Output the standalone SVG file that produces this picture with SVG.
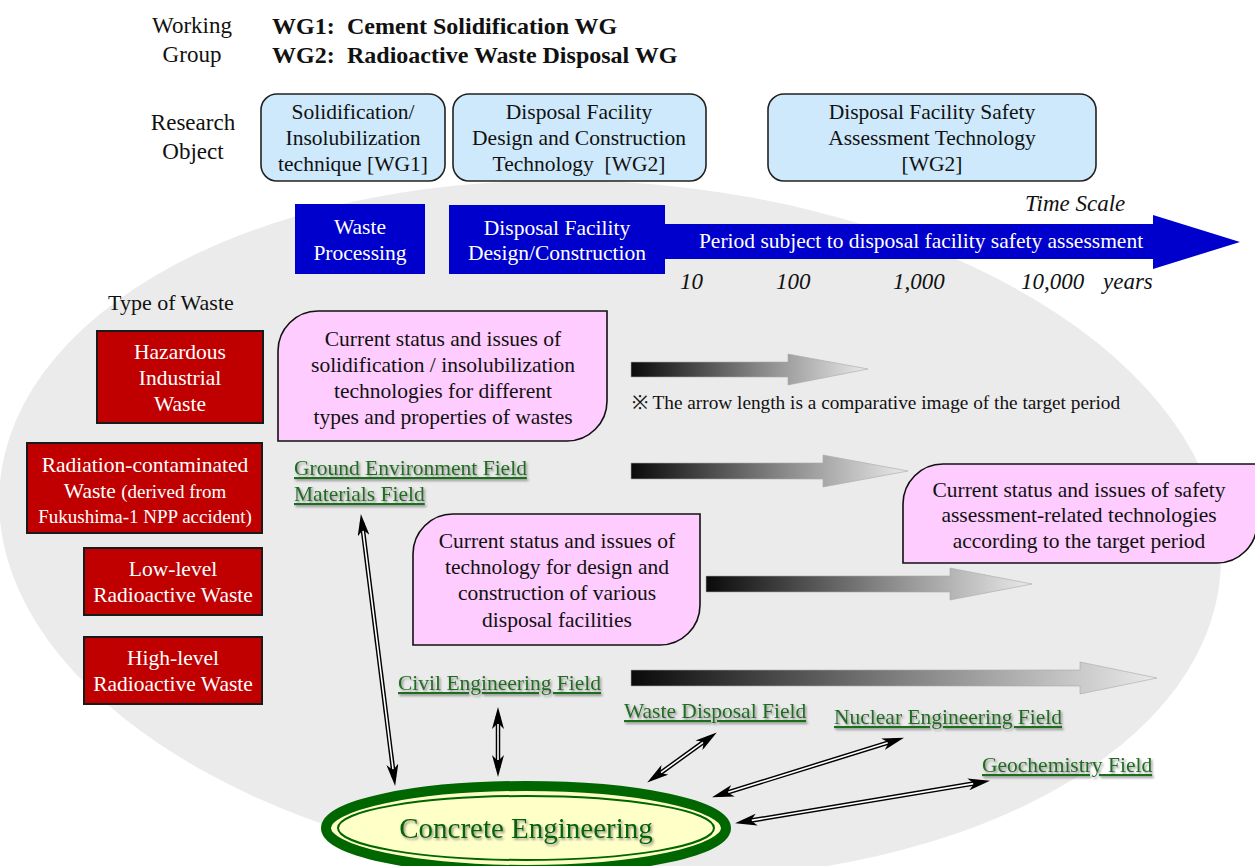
<svg xmlns="http://www.w3.org/2000/svg" width="1255" height="866" viewBox="0 0 1255 866">
<defs>
<style>
text{font-family:"Liberation Serif","Times New Roman",serif;fill:#111}
.c{text-anchor:middle}
.lbl{font-size:23px}
.hd{font-size:24px;font-weight:bold}
.bx{font-size:21.5px}
.wt{fill:#fff}
.it{font-style:italic;font-size:23px}
.obj{fill:#cde9fb;stroke:#222;stroke-width:1.6}
.blue{fill:#0000cc}
.red{fill:#c00000;stroke:#1a1a1a;stroke-width:2}
.pink{fill:#ffccff;stroke:#111;stroke-width:1.6}
.fld{font-size:21.5px;fill:#1e6e1e;text-decoration:underline;filter:url(#sh)}
.grad{fill:url(#g);stroke:#aaa;stroke-width:0.6}
.dk{stroke:#000;stroke-width:4.5;fill:none;marker-start:url(#hd);marker-end:url(#hd)}
.wl{stroke:#fff;stroke-width:1.6;fill:none}
</style>
<linearGradient id="g" x1="0" y1="0" x2="1" y2="0">
<stop offset="0" stop-color="#0a0a0a"/>
<stop offset="0.55" stop-color="#888"/>
<stop offset="1" stop-color="#eaeaea"/>
</linearGradient>
<filter id="sh" x="-5%" y="-20%" width="115%" height="160%">
<feDropShadow dx="1.5" dy="1.8" stdDeviation="0.9" flood-color="#777" flood-opacity="0.8"/>
</filter>
<marker id="hd" viewBox="0 0 22 12" refX="13" refY="6" markerWidth="22" markerHeight="12" markerUnits="userSpaceOnUse" orient="auto-start-reverse">
<path d="M0,0 L22,6 L0,12 L6,6 Z" fill="#000"/>
</marker>
</defs>
<rect width="1255" height="866" fill="#fff"/>
<ellipse id="bg" cx="610" cy="530" rx="612" ry="348" transform="rotate(4 610 530)" fill="#ebebeb"/>

<g id="header">
<text class="lbl c" x="192" y="33">Working</text>
<text class="lbl c" x="192" y="62">Group</text>
<text class="hd" x="272" y="34">WG1:</text>
<text class="hd" x="347" y="34">Cement Solidification WG</text>
<text class="hd" x="272" y="63">WG2:</text>
<text class="hd" x="347" y="63">Radioactive Waste Disposal WG</text>
<text class="lbl c" x="193" y="130">Research</text>
<text class="lbl c" x="193" y="159">Object</text>
</g>

<g id="obj1"><rect class="obj" x="261" y="94" width="184" height="87" rx="16"/>
<text class="bx c" x="353" y="119">Solidification/</text>
<text class="bx c" x="353" y="145">Insolubilization</text>
<text class="bx c" x="353" y="171">technique [WG1]</text></g>
<g id="obj2"><rect class="obj" x="453" y="94" width="253" height="87" rx="16"/>
<text class="bx c" x="579" y="119">Disposal Facility</text>
<text class="bx c" x="579" y="145">Design and Construction</text>
<text class="bx c" x="579" y="171">Technology&#160; [WG2]</text></g>
<g id="obj3"><rect class="obj" x="768" y="94" width="328" height="87" rx="16"/>
<text class="bx c" x="932" y="119">Disposal Facility Safety</text>
<text class="bx c" x="932" y="145">Assessment Technology</text>
<text class="bx c" x="932" y="171">[WG2]</text></g>

<g id="waste-processing"><rect class="blue" x="295" y="204" width="130" height="70"/>
<text class="bx c wt" x="360" y="234">Waste</text>
<text class="bx c wt" x="360" y="260">Processing</text></g>
<g id="design-construction"><rect class="blue" x="449" y="205" width="216" height="69"/>
<text class="bx c wt" x="557" y="235">Disposal Facility</text>
<text class="bx c wt" x="557" y="260">Design/Construction</text></g>
<g id="time-arrow">
<path class="blue" d="M664,224 H1153 V215 L1240,242 L1153,269 V259 H664 Z"/>
<text class="bx c wt" x="921" y="248">Period subject to disposal facility safety assessment</text>
<text class="it" x="1025" y="211">Time Scale</text>
<text class="it" x="680" y="289">10</text>
<text class="it" x="776" y="289">100</text>
<text class="it" x="893" y="289">1,000</text>
<text class="it" x="1021" y="289">10,000</text>
<text class="it" x="1103" y="289">years</text>
</g>

<text class="lbl" x="108" y="310" style="font-size:22px">Type of Waste</text>
<g id="waste1"><rect class="red" x="97" y="331" width="166" height="92"/>
<text class="bx c wt" x="180" y="359">Hazardous</text>
<text class="bx c wt" x="180" y="385">Industrial</text>
<text class="bx c wt" x="180" y="411">Waste</text></g>
<g id="waste2"><rect class="red" x="27" y="443" width="235" height="90"/>
<text class="bx c wt" x="145" y="472">Radiation-contaminated</text>
<text class="bx c wt" x="145" y="498">Waste <tspan style="font-size:19px">(derived from</tspan></text>
<text class="c wt" x="145" y="523" style="font-size:19px">Fukushima-1 NPP accident)</text></g>
<g id="waste3"><rect class="red" x="84" y="548" width="178" height="67"/>
<text class="bx c wt" x="173" y="576">Low-level</text>
<text class="bx c wt" x="173" y="602">Radioactive Waste</text></g>
<g id="waste4"><rect class="red" x="84" y="637" width="178" height="67"/>
<text class="bx c wt" x="173" y="665">High-level</text>
<text class="bx c wt" x="173" y="691">Radioactive Waste</text></g>

<g id="issueA"><path class="pink" d="M318,311 H607 V401 A40,40 0 0 1 567,441 H278 V351 A40,40 0 0 1 318,311 Z"/>
<text class="bx c" x="443" y="346">Current status and issues of</text>
<text class="bx c" x="443" y="372">solidification / insolubilization</text>
<text class="bx c" x="443" y="398">technologies for different</text>
<text class="bx c" x="443" y="424">types and properties of wastes</text></g>
<g id="issueB"><path class="pink" d="M453,514 H700 V605 A40,40 0 0 1 660,645 H413 V554 A40,40 0 0 1 453,514 Z"/>
<text class="bx c" x="557" y="548">Current status and issues of</text>
<text class="bx c" x="557" y="574">technology for design and</text>
<text class="bx c" x="557" y="600">construction of various</text>
<text class="bx c" x="557" y="627">disposal facilities</text></g>
<g id="issueC"><path class="pink" d="M943,464 H1257 V523 A40,40 0 0 1 1217,563 H903 V504 A40,40 0 0 1 943,464 Z"/>
<text class="bx c" x="1079" y="497">Current status and issues of safety</text>
<text class="bx c" x="1079" y="522">assessment-related technologies</text>
<text class="bx c" x="1079" y="548">according to the target period</text></g>

<g id="period-arrows">
<path class="grad" d="M631,362 H788 V354 L868,369 L788,385 V377 H631 Z"/>
<path class="grad" d="M631,463 H823 V455 L908,471 L823,487 V479 H631 Z"/>
<path class="grad" d="M706,576 H950 V568 L1032,584 L950,600 V592 H706 Z"/>
<path class="grad" d="M631,670 H1080 V662 L1157,678 L1080,694 V686 H631 Z"/>
</g>
<text x="632" y="409" style="font-size:19.3px">※ The arrow length is a comparative image of the target period</text>

<g id="fields">
<text class="fld" x="294" y="475">Ground Environment Field</text>
<text class="fld" x="294" y="501">Materials Field</text>
<text class="fld" x="398" y="690">Civil Engineering Field</text>
<text class="fld" x="624" y="718">Waste Disposal Field</text>
<text class="fld" x="834" y="724">Nuclear Engineering Field</text>
<text class="fld" x="982" y="772">Geochemistry Field</text>
</g>

<g id="connectors">
<line class="dk" x1="362" y1="522.9" x2="394" y2="777.1"/>
<line class="wl" x1="363" y1="530.9" x2="393" y2="769.1"/>
<line class="dk" x1="498" y1="716" x2="498" y2="768"/>
<line class="wl" x1="498" y1="724" x2="498" y2="760"/>
<line class="dk" x1="709.5" y1="737.7" x2="654.5" y2="777.3"/>
<line class="wl" x1="703" y1="742.4" x2="661" y2="772.6"/>
<line class="dk" x1="895.4" y1="740.4" x2="720.6" y2="794.6"/>
<line class="wl" x1="887.7" y1="742.7" x2="728.3" y2="792.3"/>
<line class="dk" x1="981.1" y1="782.3" x2="743.9" y2="821.7"/>
<line class="wl" x1="973.2" y1="783.6" x2="751.8" y2="820.4"/>
</g>

<g id="concrete">
<ellipse cx="526" cy="828" rx="200" ry="42" fill="#ffffc8" stroke="#006600" stroke-width="10"/>
<ellipse cx="526" cy="828" rx="188" ry="32" fill="none" stroke="#006600" stroke-width="2"/>
<text class="c" x="526" y="838" style="font-size:29px;fill:#006600;filter:url(#sh)">Concrete Engineering</text>
</g>
</svg>
